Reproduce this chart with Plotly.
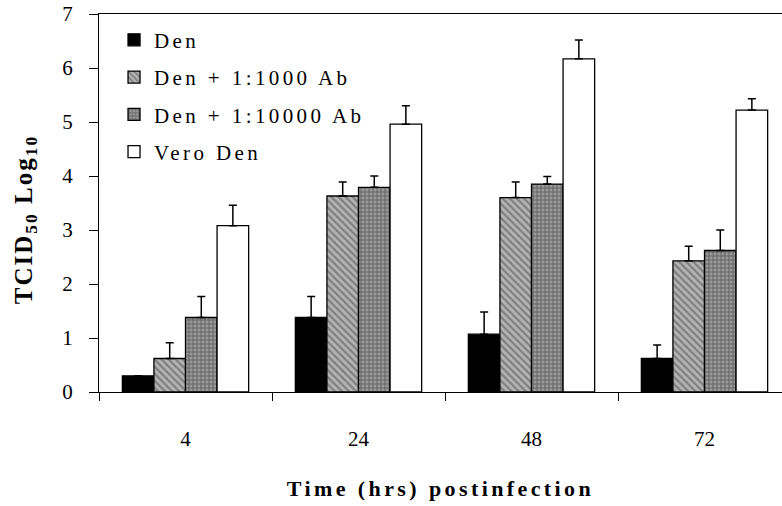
import plotly.graph_objects as go

categories = ["4", "24", "48", "72"]
series_names = ["Den", "Den + 1:1000 Ab", "Den + 1:10000 Ab", "Vero Den"]
den = [0.30, 1.38, 1.07, 0.62]
den_err = [0.0, 0.39, 0.41, 0.25]
ab1000 = [0.62, 3.63, 3.60, 2.43]
ab1000_err = [0.29, 0.26, 0.29, 0.27]
ab10000 = [1.38, 3.79, 3.85, 2.62]
ab10000_err = [0.39, 0.21, 0.14, 0.38]
vero = [3.08, 4.96, 6.17, 5.22]
vero_err = [0.38, 0.34, 0.35, 0.21]
y_ticks = [0, 1, 2, 3, 4, 5, 6, 7]

values = [den, ab1000, ab10000, vero]
errors = [den_err, ab1000_err, ab10000_err, vero_err]
styles = [
    dict(color="black", pattern=None),
    dict(color="#a8a8a8", pattern=dict(shape="\\", fgcolor="#4a4a4a", bgcolor="#b4b4b4", size=5, solidity=0.45)),
    dict(color="#7a7a7a", pattern=dict(shape="+", fgcolor="#2e2e2e", bgcolor="#9a9a9a", size=4, solidity=0.45)),
    dict(color="white", pattern=None),
]


def spaced(text, px):
    return f'<span style="letter-spacing:{px}px">{text}</span>'


fig = go.Figure()
for i, (name, v, e, s) in enumerate(zip(series_names, values, errors, styles)):
    marker = dict(color=s["color"], line=dict(color="black", width=1.3))
    if s["pattern"]:
        marker["pattern"] = s["pattern"]
    fig.add_trace(go.Bar(
        x=categories, y=v, name=spaced(name, 3.4), legendgroup=f"g{i}",
        marker=marker,
        error_y=dict(type="data", array=e, arrayminus=[0] * len(e), symmetric=False,
                     color="black", thickness=1.5, width=4),
    ))

serif = "Liberation Serif"
fig.update_layout(
    width=782, height=506,
    margin=dict(l=99, r=0, t=14, b=114),
    paper_bgcolor="white", plot_bgcolor="white",
    barmode="group", bargap=0.27, bargroupgap=0,
    font=dict(family=serif, color="black", size=20),
    showlegend=True,
    legend=dict(x=0.022, y=0.985, xanchor="left", yanchor="top",
                font=dict(family=serif, size=21, color="black"),
                tracegroupgap=7, bgcolor="rgba(0,0,0,0)"),
    annotations=[dict(
        text="<b>" + spaced("TCID<sub>50</sub> Log<sub>10</sub>", 2) + "</b>",
        xref="paper", yref="paper", x=-0.108, y=0.455,
        xanchor="center", yanchor="middle", textangle=-90, showarrow=False,
        font=dict(family=serif, size=25, color="black"),
    )],
)
fig.update_xaxes(
    type="category", range=[-0.5, 3.448],
    tickson="boundaries", ticks="outside", ticklen=8, tickcolor="black",
    showline=True, linecolor="black", linewidth=1.3, mirror=True,
    showgrid=False, ticklabelstandoff=28,
    tickfont=dict(family=serif, size=21),
    title=dict(text="<b>" + spaced("Time (hrs) postinfection", 3.4) + "</b>",
               font=dict(family=serif, size=22), standoff=30),
)
fig.update_yaxes(
    range=[0, 7], tickvals=y_ticks, ticks="outside", ticklen=9, tickcolor="black",
    showline=True, linecolor="black", linewidth=1.3, showgrid=False, zeroline=False,
    ticklabelstandoff=12,
    tickfont=dict(family=serif, size=21),
)
fig.write_html("out.html")
